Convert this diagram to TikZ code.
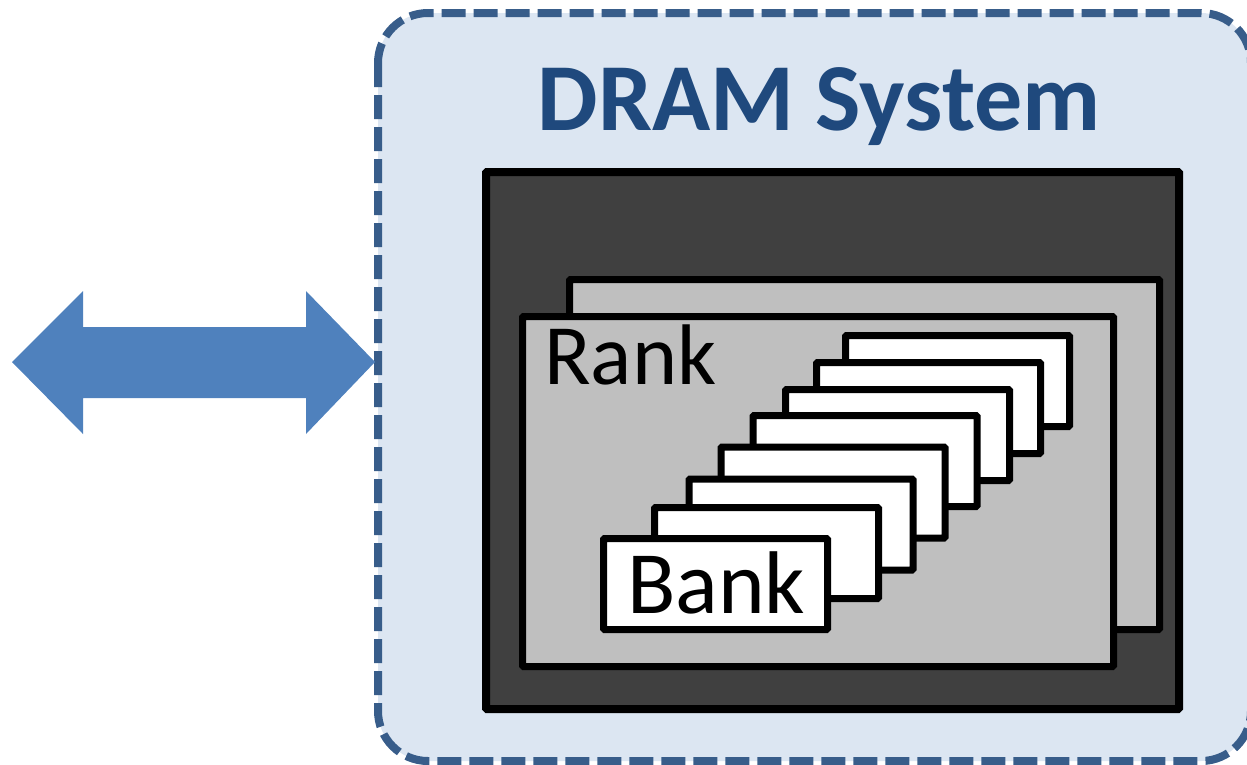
\documentclass[tikz,border=0pt]{standalone}
\usepackage{fontspec}
\setmainfont{Carlito}
\definecolor{sysfill}{HTML}{DCE6F2}
\definecolor{sysline}{HTML}{385D8A}
\definecolor{titlecol}{HTML}{1F497D}
\definecolor{arrowcol}{HTML}{4F81BD}
\definecolor{chipfill}{HTML}{404040}
\definecolor{rankfill}{HTML}{BFBFBF}
\tikzset{
  sysbox/.style={draw=sysline, fill=sysfill, line width=8pt, dash pattern=on 24pt off 8pt, rounded corners=50pt},
  chipbox/.style={draw=black, fill=chipfill, line width=8pt, rounded corners=1pt},
  rankbox/.style={draw=black, fill=rankfill, line width=7pt, rounded corners=1pt},
  bankbox/.style={draw=black, fill=white, line width=7pt, rounded corners=1pt, minimum width=224pt, minimum height=91pt, inner sep=0pt},
  lbl/.style={inner sep=0pt, anchor=base west, text=black}
}
\begin{document}
\begin{tikzpicture}[x=1pt,y=-1pt]
\useasboundingbox (0,0) rectangle (1247,764);
\clip (0,0) rectangle (1247,764);
% system box
\draw[sysbox] (378,13) rectangle (1251,761);
\node[inner sep=0pt, anchor=base, text=titlecol, font=\fontsize{96}{100}\selectfont\bfseries] (title) at (819,130) {DRAM System};
% double arrow
\fill[arrowcol] (12,362) -- (83,291) -- (83,327) -- (306,327) -- (306,291) -- (375,362) -- (306,434) -- (306,398) -- (83,398) -- (83,434) -- cycle;
% chip
\draw[chipbox] (486,172) rectangle (1179,709);
% ranks
\draw[rankbox] (569.5,279.5) rectangle (1159.5,629.5);
\draw[rankbox] (522.5,316.5) rectangle (1113.5,666.5);
\node[lbl, font=\fontsize{86}{90}\selectfont] (rank) at (544,384) {Rank};
% banks
\node[bankbox] (b1) at (957.5,381) {};
\node[bankbox] (b2) at (928.5,408) {};
\node[bankbox] (b3) at (897.5,435) {};
\node[bankbox] (b4) at (865,461) {};
\node[bankbox] (b5) at (833,492.5) {};
\node[bankbox] (b6) at (801,524.5) {};
\node[bankbox] (b7) at (766.5,553) {};
\node[bankbox] (b8) at (715.5,584) {};
\node[lbl, font=\fontsize{89}{95}\selectfont] (bank) at (627,613) {Bank};
\end{tikzpicture}
\end{document}
